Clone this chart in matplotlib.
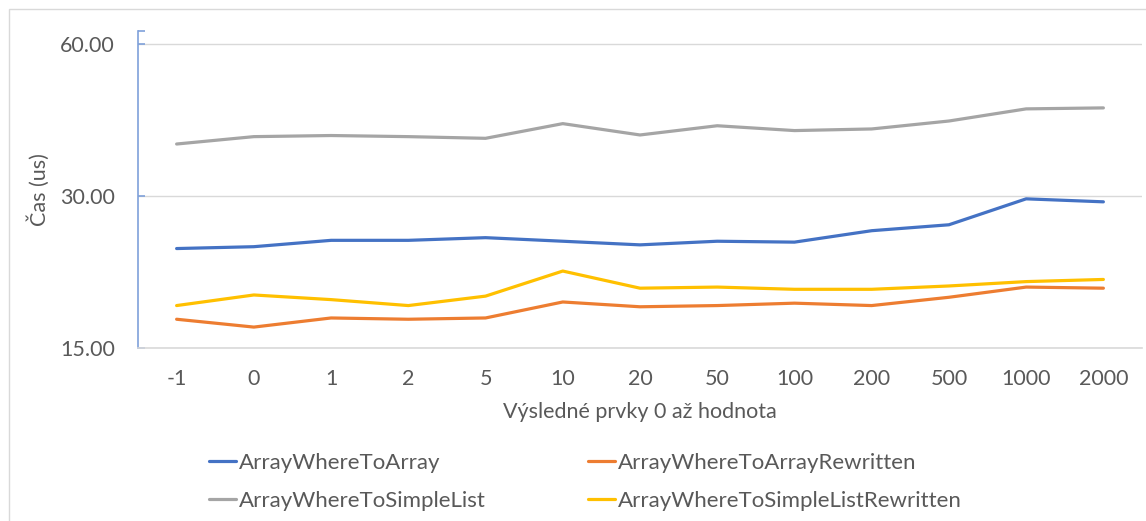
import matplotlib
matplotlib.use("Agg")
import matplotlib.pyplot as plt
from matplotlib.patches import Rectangle
from matplotlib.ticker import FixedLocator, FuncFormatter, NullFormatter

categories = ["-1", "0", "1", "2", "5", "10", "20", "50", "100", "200", "500", "1000", "2000"]
array_where_to_array = [23.6, 23.8, 24.5, 24.5, 24.8, 24.4, 24.0, 24.4, 24.3, 25.6, 26.3, 29.6, 29.2]
array_where_to_array_rewritten = [17.1, 16.5, 17.2, 17.1, 17.2, 18.5, 18.1, 18.2, 18.4, 18.2, 18.9, 19.8, 19.7]
array_where_to_simple_list = [38.0, 39.3, 39.5, 39.3, 39.0, 41.7, 39.6, 41.3, 40.4, 40.7, 42.2, 44.6, 44.8]
array_where_to_simple_list_rewritten = [18.2, 19.1, 18.7, 18.2, 19.0, 21.3, 19.7, 19.8, 19.6, 19.6, 19.9, 20.3, 20.5]
y_ticks = [15, 30, 60]

plt.rcParams['font.family'] = ['Lato', 'DejaVu Sans']
txt = '#595959'
W, H = 1146, 521
fig = plt.figure(figsize=(W / 100, H / 100), dpi=100)
fig.patch.set_facecolor('white')
fig.patches.append(Rectangle((9 / W, -0.1), 1.2, 1.1 - 9 / H, transform=fig.transFigure,
                             fill=False, edgecolor='#D9D9D9', linewidth=1.0))

ax = fig.add_axes([138 / W, 1 - 348 / H, 1004 / W, 317 / H])
x = list(range(len(categories)))
lw = 2.3
l_blue, = ax.plot(x, array_where_to_array, color='#4472C4', lw=lw, label='ArrayWhereToArray', solid_capstyle='round')
l_orange, = ax.plot(x, array_where_to_array_rewritten, color='#ED7D31', lw=lw, label='ArrayWhereToArrayRewritten', solid_capstyle='round')
l_gray, = ax.plot(x, array_where_to_simple_list, color='#A5A5A5', lw=lw, label='ArrayWhereToSimpleList', solid_capstyle='round')
l_yellow, = ax.plot(x, array_where_to_simple_list_rewritten, color='#FFC000', lw=lw, label='ArrayWhereToSimpleListRewritten', solid_capstyle='round')

ax.set_yscale('log', base=2)
ymax = 63.6
ax.set_ylim(15, ymax)
ax.set_xlim(-0.5, len(categories) - 0.5)
ax.yaxis.set_major_locator(FixedLocator(y_ticks))
ax.yaxis.set_major_formatter(FuncFormatter(lambda v, p: f"{v:.2f}"))
ax.yaxis.set_minor_locator(FixedLocator([ymax]))
ax.yaxis.set_minor_formatter(NullFormatter())
ax.set_xticks(x)
ax.set_xticklabels(categories)

blue_axis = '#7FA1DA'
for s in ['top', 'right']:
    ax.spines[s].set_visible(False)
ax.spines['left'].set_color(blue_axis)
ax.spines['left'].set_linewidth(1.2)
ax.spines['bottom'].set_color('#D9D9D9')
ax.spines['bottom'].set_linewidth(1.2)
ax.grid(axis='y', which='major', color='#D9D9D9', linewidth=1.0)
ax.set_axisbelow(True)

ax.tick_params(axis='y', which='both', direction='in', length=5, width=1.2, color=blue_axis,
               labelsize=15.5, labelcolor=txt, pad=16.5)
ax.tick_params(axis='x', length=0, labelsize=15.5, labelcolor=txt, pad=15)

fig.text(39 / W, 1 - 190 / H, 'Čas (us)', rotation=90, ha='center', va='center', fontsize=15.5, color=txt)
fig.text(640 / W, 1 - 412 / H, 'Výsledné prvky 0 až hodnota', ha='center', va='center', fontsize=15.5, color=txt)

leg = fig.legend([l_blue, l_gray, l_orange, l_yellow],
                 [l.get_label() for l in [l_blue, l_gray, l_orange, l_yellow]],
                 ncol=2, loc='upper left', bbox_to_anchor=(209 / W, 1 - 453 / H),
                 frameon=False, fontsize=16, handlelength=1.2, handletextpad=0.15,
                 columnspacing=4.6, labelspacing=0.8, borderpad=0, borderaxespad=0)
for t in leg.get_texts():
    t.set_color(txt)

fig.savefig('out.png', dpi=100, facecolor='white')
